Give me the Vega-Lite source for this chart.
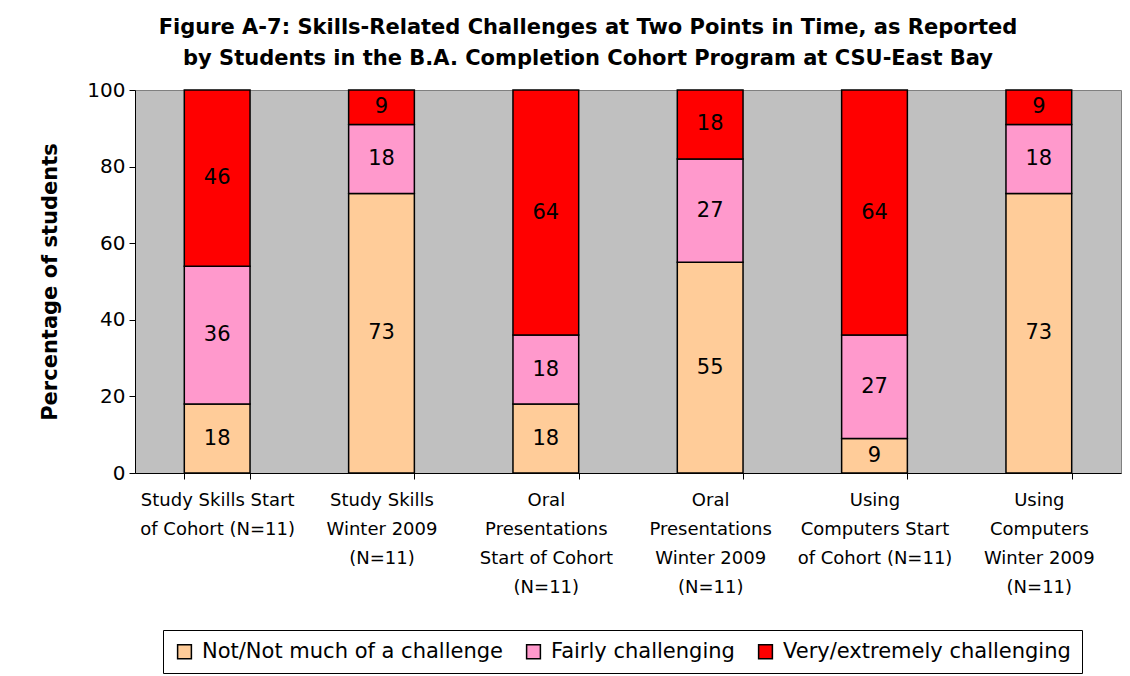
{
  "$schema": "https://vega.github.io/schema/vega-lite/v6.json",
  "autosize": {"type": "none"},
  "width": 986,
  "height": 383,
  "padding": {"left": 135, "top": 90, "right": 9, "bottom": 203},
  "background": "white",
  "title": {
    "text": ["Figure A-7: Skills-Related Challenges at Two Points in Time, as Reported", "by Students in the B.A. Completion Cohort Program at CSU-East Bay"],
    "font": "DejaVu Sans",
    "fontSize": 21,
    "fontWeight": "bold",
    "color": "black",
    "lineHeight": 31,
    "anchor": "middle",
    "frame": "group",
    "dx": -40,
    "offset": 11
  },
  "data": {
    "values": [
      {"cat": "Study Skills Start|of Cohort (N=11)", "ci": 1, "level": "Not/Not much of a challenge", "o": 1, "v": 18},
      {"cat": "Study Skills Start|of Cohort (N=11)", "ci": 1, "level": "Fairly challenging", "o": 2, "v": 36},
      {"cat": "Study Skills Start|of Cohort (N=11)", "ci": 1, "level": "Very/extremely challenging", "o": 3, "v": 46},
      {"cat": "Study Skills|Winter 2009|(N=11)", "ci": 2, "level": "Not/Not much of a challenge", "o": 1, "v": 73},
      {"cat": "Study Skills|Winter 2009|(N=11)", "ci": 2, "level": "Fairly challenging", "o": 2, "v": 18},
      {"cat": "Study Skills|Winter 2009|(N=11)", "ci": 2, "level": "Very/extremely challenging", "o": 3, "v": 9},
      {"cat": "Oral|Presentations|Start of Cohort|(N=11)", "ci": 3, "level": "Not/Not much of a challenge", "o": 1, "v": 18},
      {"cat": "Oral|Presentations|Start of Cohort|(N=11)", "ci": 3, "level": "Fairly challenging", "o": 2, "v": 18},
      {"cat": "Oral|Presentations|Start of Cohort|(N=11)", "ci": 3, "level": "Very/extremely challenging", "o": 3, "v": 64},
      {"cat": "Oral|Presentations|Winter 2009|(N=11)", "ci": 4, "level": "Not/Not much of a challenge", "o": 1, "v": 55},
      {"cat": "Oral|Presentations|Winter 2009|(N=11)", "ci": 4, "level": "Fairly challenging", "o": 2, "v": 27},
      {"cat": "Oral|Presentations|Winter 2009|(N=11)", "ci": 4, "level": "Very/extremely challenging", "o": 3, "v": 18},
      {"cat": "Using|Computers Start|of Cohort (N=11)", "ci": 5, "level": "Not/Not much of a challenge", "o": 1, "v": 9},
      {"cat": "Using|Computers Start|of Cohort (N=11)", "ci": 5, "level": "Fairly challenging", "o": 2, "v": 27},
      {"cat": "Using|Computers Start|of Cohort (N=11)", "ci": 5, "level": "Very/extremely challenging", "o": 3, "v": 64},
      {"cat": "Using|Computers|Winter 2009|(N=11)", "ci": 6, "level": "Not/Not much of a challenge", "o": 1, "v": 73},
      {"cat": "Using|Computers|Winter 2009|(N=11)", "ci": 6, "level": "Fairly challenging", "o": 2, "v": 18},
      {"cat": "Using|Computers|Winter 2009|(N=11)", "ci": 6, "level": "Very/extremely challenging", "o": 3, "v": 9}
    ]
  },
  "transform": [
    {"stack": "v", "groupby": ["cat"], "sort": [{"field": "o", "order": "ascending"}], "as": ["y0", "y1"]},
    {"calculate": "(datum.y0 + datum.y1) / 2", "as": "ymid"}
  ],
  "encoding": {
    "x": {
      "field": "cat",
      "type": "nominal",
      "sort": {"field": "ci", "order": "ascending"},
      "scale": {"paddingInner": 0.6, "paddingOuter": 0.3},
      "axis": {
        "title": null,
        "labelAngle": 0,
        "labelExpr": "split(datum.label, '|')",
        "labelFont": "DejaVu Sans",
        "labelFontSize": 18,
        "labelColor": "black",
        "labelLineHeight": 29,
        "labelPadding": 12,
        "labelBaseline": "top",
        "labelLimit": 300,
        "tickBand": "extent",
        "tickSize": 6,
        "tickColor": "black",
        "domainColor": "black",
        "labelOverlap": false
      }
    }
  },
  "layer": [
    {
      "mark": {"type": "bar", "stroke": "black", "strokeWidth": 1.5},
      "encoding": {
        "y": {
          "field": "y0",
          "type": "quantitative",
          "scale": {"domain": [0, 100], "nice": false},
          "axis": {
            "title": "Percentage of students",
            "titleFont": "DejaVu Sans",
            "titleFontSize": 21,
            "titleFontWeight": "bold",
            "titleColor": "black",
            "titlePadding": 26,
            "values": [0, 20, 40, 60, 80, 100],
            "labelFont": "DejaVu Sans",
            "labelFontSize": 20,
            "labelColor": "black",
            "labelPadding": 4,
            "tickSize": 6,
            "tickColor": "black",
            "domainColor": "black",
            "grid": false
          }
        },
        "y2": {"field": "y1"},
        "color": {
          "field": "level",
          "type": "nominal",
          "sort": ["Not/Not much of a challenge", "Fairly challenging", "Very/extremely challenging"],
          "scale": {
            "domain": ["Not/Not much of a challenge", "Fairly challenging", "Very/extremely challenging"],
            "range": ["#FFCC99", "#FF99CC", "#FF0000"]
          },
          "legend": {
            "title": null,
            "orient": "none",
            "direction": "horizontal",
            "legendX": 28,
            "legendY": 540,
            "strokeColor": "black",
            "padding": 11,
            "symbolType": "square",
            "symbolSize": 190,
            "symbolStrokeColor": "black",
            "symbolStrokeWidth": 1.5,
            "symbolOpacity": 1,
            "labelFont": "DejaVu Sans",
            "labelFontSize": 21,
            "labelColor": "black",
            "labelOffset": 7,
            "columnPadding": 20,
            "labelLimit": 400
          }
        }
      }
    },
    {
      "mark": {"type": "text", "font": "DejaVu Sans", "fontSize": 21, "color": "black", "baseline": "middle"},
      "encoding": {
        "y": {"field": "ymid", "type": "quantitative"},
        "text": {"field": "v", "type": "quantitative"}
      }
    }
  ],
  "config": {
    "view": {"fill": "#C0C0C0", "stroke": "#808080", "strokeWidth": 1}
  }
}
